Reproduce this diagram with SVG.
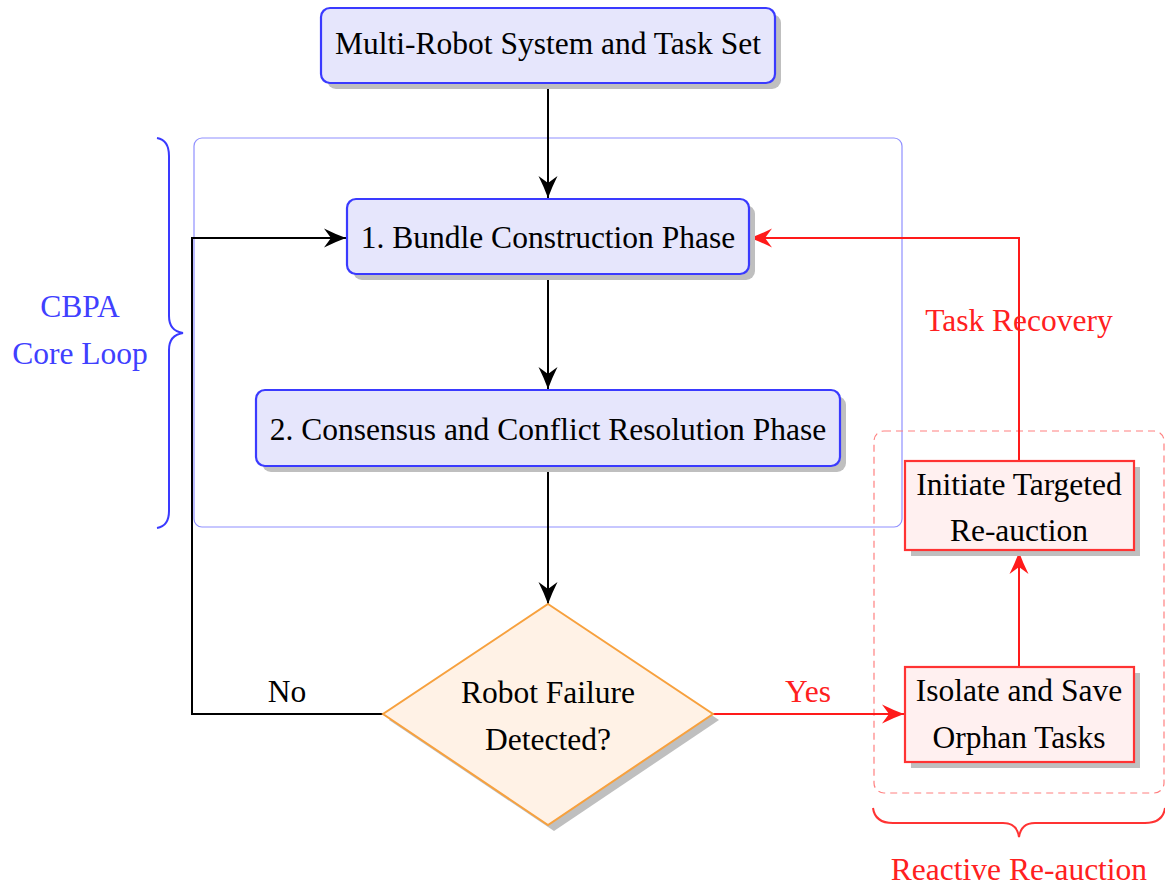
<svg xmlns="http://www.w3.org/2000/svg" width="1165" height="886" viewBox="0 0 1165 886">
  <style>
    text { font-family: "Liberation Serif", "Times New Roman", serif; font-size: 31.5px; text-anchor: middle; fill: #000; }
    .blue-t { fill: #4040ff; }
    .red-t { fill: #ff2020; }
    .shadow { fill: #bfbfbf; stroke: none; }
    .phase { fill: #e6e6fc; stroke: #3a3aff; stroke-width: 2.2; }
    .action { fill: #fff0f0; stroke: #ff3333; stroke-width: 2.2; }
    .decision { fill: #fff2e6; stroke: #f7a13e; stroke-width: 2; }
    .flow { fill: none; stroke: #000; stroke-width: 2; }
    .flow-red { fill: none; stroke: #ff1a1a; stroke-width: 2; }
    .group-blue { fill: none; stroke: #9090ff; stroke-width: 1.2; }
    .group-red { fill: none; stroke: #ff8080; stroke-width: 1.2; stroke-dasharray: 7 5; }
    .brace-blue { fill: none; stroke: #3a3aff; stroke-width: 2; }
    .brace-red { fill: none; stroke: #ff3333; stroke-width: 2; }
  </style>
  <defs>
    <marker id="arrow-black" viewBox="-24 -11 25 22" refX="0" refY="0" markerWidth="25" markerHeight="22" markerUnits="userSpaceOnUse" orient="auto">
      <path d="M0,0 Q-11,-4 -22,-9.5 L-15,0 L-22,9.5 Q-11,4 0,0 Z" fill="#000"/>
    </marker>
    <marker id="arrow-red" viewBox="-24 -11 25 22" refX="0" refY="0" markerWidth="25" markerHeight="22" markerUnits="userSpaceOnUse" orient="auto">
      <path d="M0,0 Q-11,-4 -22,-9.5 L-15,0 L-22,9.5 Q-11,4 0,0 Z" fill="#ff1a1a"/>
    </marker>
  </defs>

  <!-- grouping frames and braces -->
  <g id="core-loop-frame">
    <rect class="group-blue" x="194" y="138" width="708" height="389" rx="8"/>
    <path class="brace-blue" d="M157,138 Q169,140 169,156 L169,316 Q169,331 183,333 Q169,335 169,350 L169,511 Q169,526 157,528"/>
    <text class="blue-t" x="80" y="317">CBPA</text>
    <text class="blue-t" x="80" y="364">Core Loop</text>
  </g>
  <g id="reauction-frame">
    <rect class="group-red" x="874" y="431" width="290" height="362" rx="10"/>
    <path class="brace-red" d="M873,808 Q875,823 893,823 L1003,823 Q1017,823 1019,837 Q1021,823 1035,823 L1145,823 Q1163,823 1165,808"/>
    <text class="red-t" x="1019" y="880">Reactive Re-auction</text>
  </g>

  <!-- connectors -->
  <g id="connectors">
    <path class="flow" d="M548,83 L548,198" marker-end="url(#arrow-black)"/>
    <path class="flow" d="M548,274 L548,389" marker-end="url(#arrow-black)"/>
    <path class="flow" d="M548,466 L548,604" marker-end="url(#arrow-black)"/>
    <path class="flow" d="M383,714 L192,714 L192,238 L346,238" marker-end="url(#arrow-black)"/>
    <path class="flow-red" d="M713,714 L904,714" marker-end="url(#arrow-red)"/>
    <path class="flow-red" d="M1019,667 L1019,552" marker-end="url(#arrow-red)"/>
    <path class="flow-red" d="M1019,461 L1019,238 L750,238" marker-end="url(#arrow-red)"/>
    <text x="287" y="702">No</text>
    <text class="red-t" x="808" y="702">Yes</text>
    <text class="red-t" x="1019" y="331">Task Recovery</text>
  </g>

  <!-- nodes -->
  <g id="system-input">
    <rect class="shadow" x="327" y="14" width="454" height="75" rx="9"/>
    <rect class="phase" x="321" y="8" width="454" height="75" rx="9"/>
    <text x="548" y="54">Multi-Robot System and Task Set</text>
  </g>
  <g id="bundle-construction">
    <rect class="shadow" x="353" y="205" width="402" height="75" rx="9"/>
    <rect class="phase" x="347" y="199" width="402" height="75" rx="9"/>
    <text x="548" y="248">1. Bundle Construction Phase</text>
  </g>
  <g id="consensus">
    <rect class="shadow" x="262" y="396" width="584" height="76" rx="9"/>
    <rect class="phase" x="256" y="390" width="584" height="76" rx="9"/>
    <text x="548" y="440">2. Consensus and Conflict Resolution Phase</text>
  </g>
  <g id="failure-check">
    <polygon class="shadow" points="554,610 719,720 554,831 389,720"/>
    <polygon class="decision" points="548,604 713,714 548,825 383,714"/>
    <text x="548" y="703">Robot Failure</text>
    <text x="548" y="750">Detected?</text>
  </g>
  <g id="isolate-tasks">
    <rect class="shadow" x="911" y="673" width="229" height="95"/>
    <rect class="action" x="905" y="667" width="229" height="95"/>
    <text x="1019" y="701">Isolate and Save</text>
    <text x="1019" y="748">Orphan Tasks</text>
  </g>
  <g id="targeted-reauction">
    <rect class="shadow" x="911" y="467" width="229" height="89"/>
    <rect class="action" x="905" y="461" width="229" height="89"/>
    <text x="1019" y="495">Initiate Targeted</text>
    <text x="1019" y="541">Re-auction</text>
  </g>
</svg>
